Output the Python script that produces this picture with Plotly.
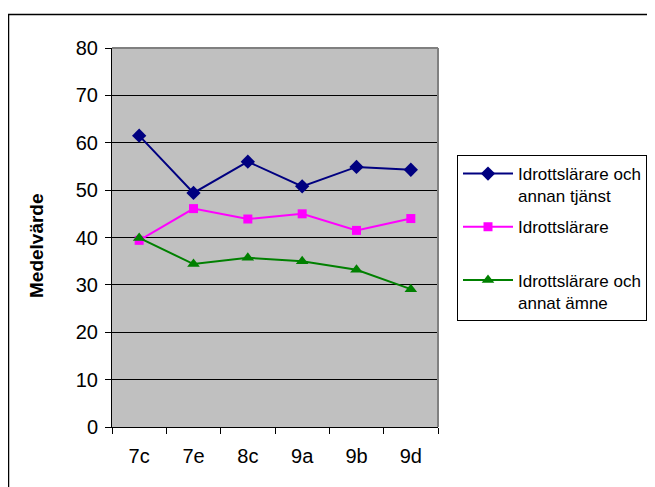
import plotly.graph_objects as go

categories = ["7c", "7e", "8c", "9a", "9b", "9d"]
annan_tjanst = [61.5, 49.4, 56.0, 50.8, 54.9, 54.3]
idrottslarare = [39.4, 46.1, 43.9, 45.0, 41.5, 44.0]
annat_amne = [39.9, 34.4, 35.7, 35.0, 33.2, 29.1]
y_ticks = [0, 10, 20, 30, 40, 50, 60, 70, 80]

FONT = "Liberation Sans, Arial, sans-serif"

fig = go.Figure()
fig.add_trace(go.Scatter(
    x=categories, y=annan_tjanst, mode="lines+markers",
    name="Idrottslärare och<br>annan tjänst", legendgroup="a",
    line=dict(color="#000080", width=2),
    marker=dict(symbol="diamond", size=11, color="#000080")))
fig.add_trace(go.Scatter(
    x=categories, y=idrottslarare, mode="lines+markers",
    name="Idrottslärare<br> ", legendgroup="b",
    line=dict(color="#FF00FF", width=2),
    marker=dict(symbol="square", size=9, color="#FF00FF")))
fig.add_trace(go.Scatter(
    x=categories, y=annat_amne, mode="lines+markers",
    name="Idrottslärare och<br>annat ämne", legendgroup="c",
    line=dict(color="#008000", width=2),
    marker=dict(symbol="triangle-up", size=11, color="#008000")))

# page body has an 8px margin; figure coords = reference coords - 8
OFF = 8
W, H = 700, 479
L, T = 112 - OFF, 48 - OFF
R = W - (438 - OFF)
B = H - (427 - OFF)
pw, ph = W - L - R, H - T - B

def px(x):
    return (x - OFF - L) / pw

def py(y):
    return (H - B - (y - OFF)) / ph

fig.update_layout(
    width=W, height=H,
    margin=dict(l=L, r=R, t=T, b=B),
    paper_bgcolor="white", plot_bgcolor="#C0C0C0",
    font=dict(family=FONT, color="black", size=17),
    showlegend=True,
    legend=dict(
        x=px(457), y=py(155), xanchor="left", yanchor="top",
        bgcolor="white", bordercolor="black", borderwidth=1,
        font=dict(family=FONT, size=17, color="black"),
        valign="top", tracegroupgap=6, traceorder="grouped",
        itemwidth=50),
    xaxis=dict(
        type="category", range=[-0.5, 5.5],
        showline=True, linecolor="black", linewidth=1,
        ticks="outside", ticklen=6, tickcolor="black", tickson="boundaries",
        showgrid=False, ticklabelstandoff=11,
        tickfont=dict(family=FONT, size=20, color="black")),
    yaxis=dict(
        range=[0, 80], tickvals=y_ticks, ticktext=[str(v) for v in y_ticks],
        showline=True, linecolor="black", linewidth=1,
        ticks="outside", ticklen=6, tickcolor="black",
        showgrid=True, gridcolor="black", gridwidth=1,
        zeroline=False, ticklabelstandoff=3,
        tickfont=dict(family=FONT, size=20, color="black")),
    shapes=[
        dict(type="line", xref="paper", yref="paper", x0=0, x1=1, y0=1, y1=1,
             line=dict(color="#808080", width=2)),
        dict(type="line", xref="paper", yref="paper", x0=1, x1=1, y0=0, y1=1,
             line=dict(color="#808080", width=2)),
        dict(type="rect", xref="paper", yref="paper",
             x0=px(8.5), x1=px(760), y0=py(540), y1=py(14.5),
             line=dict(color="black", width=1.5)),
    ],
    annotations=[
        dict(text="<b>Medelvärde</b>", xref="paper", yref="paper",
             x=px(36), y=py(246), textangle=-90, showarrow=False,
             font=dict(family=FONT, size=19, color="black"),
             xanchor="center", yanchor="middle"),
    ],
)

fig.write_html("out.html")
